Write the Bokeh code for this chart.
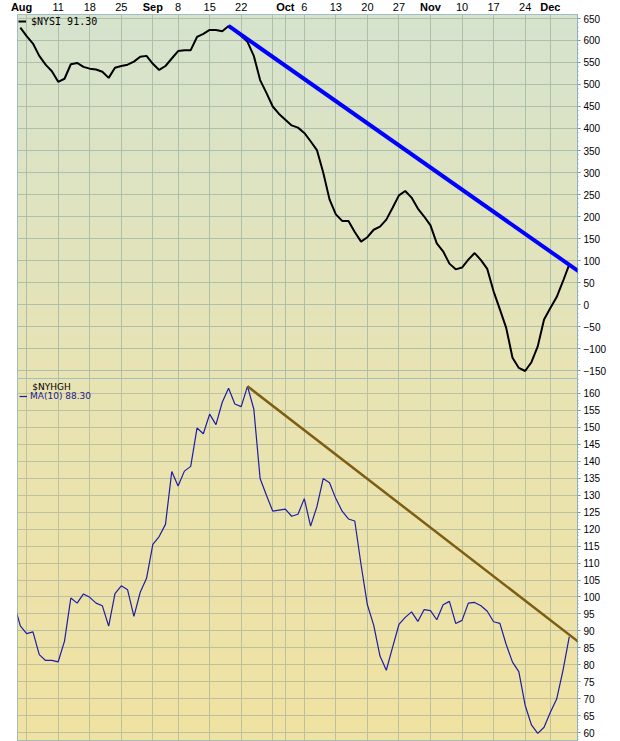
import numpy as np
from bokeh.plotting import figure
from bokeh.models import Range1d, FixedTicker, Label, Legend, LegendItem, Arrow
from bokeh.core.properties import value
from bokeh.layouts import column
from bokeh.embed import file_html
from bokeh.resources import INLINE

# x = trading-day index, 0 = Aug 1
nysi_days = list(range(0, 88))
nysi = [629, 610, 593, 565, 545, 530, 506, 513, 546, 549,
        540, 536, 534, 529, 515, 538, 542, 545, 552, 563,
        565, 547, 533, 542, 559, 576, 578, 578, 608, 615,
        624, 624, 621, 633, 622, 610, 597, 565, 510, 481,
        450, 433, 420, 407, 402, 390, 371, 351, 300, 239,
        205, 190, 190, 165, 143, 153, 170, 177, 193, 220,
        248, 258, 243, 218, 200, 180, 139, 121, 93, 80,
        84, 102, 117, 101, 81, 30, -11, -53, -121, -144,
        -151, -131, -95, -34, -8, 17, 53, 91.3]

hgh_days = list(range(-1, 88))
nyhgh_ma = [98, 91.5, 89.2, 89.7, 83, 81.3, 81.3, 80.9, 87, 99.7,
            98.2, 100.9, 99.9, 98.2, 97.4, 91.4, 101, 103.3, 102.1, 94.3,
            101.4, 105.5, 115.5, 117.8, 121.4, 137, 132.7, 137.1, 138.5, 149.8,
            148.1, 153.9, 150.8, 157.4, 161.5, 156.9, 156.1, 162.1, 155.4, 134.9,
            130, 125.3, 125.6, 125.9, 123.8, 124.4, 129, 120.9, 126.6, 134.9,
            133.7, 129, 125.3, 123, 122.4, 109.5, 97.7, 91.7, 82.6, 78.4,
            85.2, 91.9, 94, 95.6, 92.8, 96.3, 96, 93.3, 97.7, 98.7,
            92.2, 93.1, 98.2, 98.4, 97.4, 95.8, 92.7, 92.2, 86, 80.8,
            78, 68.1, 62.3, 59.8, 61.6, 66, 69.9, 78.4, 88.3]

nysi_trend_x = [33, 92]
nysi_trend_y = [633, 40]
hgh_trend_x = [36, 89]
hgh_trend_y = [162.1, 86]

week_ticks = [1, 6, 11, 16, 21, 25, 30, 35, 40, 42, 45, 50, 55, 60, 65, 70, 75, 80, 84]
day_tick_pos = [6, 11, 16, 25, 30, 35, 45, 50, 55, 60, 70, 75, 80]
day_tick_labels = ["11", "18", "25", "8", "15", "22", "6", "13", "20", "27", "10", "17", "24"]
month_pos = [0.2, 21, 42, 65, 84]
month_names = ["Aug", "Sep", "Oct", "Nov", "Dec"]

nysi_ticks = list(range(-150, 651, 50))
hgh_ticks = list(range(60, 161, 5))

X0, X1 = -0.45, 88.3
Y1 = (-168, 659)
Y2 = (57.7, 164.4)
FW, FH1, FH2 = 560, 364, 362
LEFT = 17
STRIP_H = 14
BORDER = "#8fb0c0"
FONT = "Liberation Sans"


def gradient(c_top, c_bot, n=256):
    t = np.linspace(0, 1, n)[:, None]
    top = np.array(c_top, dtype=float)
    bot = np.array(c_bot, dtype=float)
    rgb = bot + (top - bot) * t
    img = np.empty((n, 1), dtype=np.uint32)
    v = img.view(dtype=np.uint8).reshape((n, 1, 4))
    v[:, 0, 0] = rgb[:, 0]
    v[:, 0, 1] = rgb[:, 1]
    v[:, 0, 2] = rgb[:, 2]
    v[:, 0, 3] = 255
    return img


def style_right_axis(p, ticks, minor):
    ax = p.yaxis[0]
    ax.ticker = FixedTicker(ticks=ticks, minor_ticks=minor)
    ax.axis_line_color = BORDER
    ax.major_tick_out = 3
    ax.major_tick_in = 0
    ax.minor_tick_out = 1
    ax.minor_tick_in = 0
    ax.major_tick_line_color = "#6f8f9e"
    ax.minor_tick_line_color = BORDER
    ax.major_label_standoff = 3
    ax.major_label_text_font = FONT
    ax.major_label_text_font_size = "10px"
    ax.major_label_text_color = "black"


def base_fig(yr, fh):
    p = figure(frame_width=FW, frame_height=fh,
               x_range=Range1d(X0, X1), y_range=Range1d(*yr),
               x_axis_location=None, y_axis_location="right",
               output_backend="svg", toolbar_location=None,
               min_border_left=LEFT, min_border_right=2,
               min_border_top=0, min_border_bottom=0,
               border_fill_color="white", outline_line_color=BORDER)
    p.xgrid.ticker = FixedTicker(ticks=week_ticks)
    return p


# ---------------- date strip on top ----------------
ppx = FW / (X1 - X0)
sx0 = X0 - LEFT / ppx
strip = figure(frame_width=620, frame_height=STRIP_H,
               x_range=Range1d(sx0, sx0 + 620 / ppx), y_range=Range1d(0, STRIP_H),
               x_axis_location=None, y_axis_location=None,
               output_backend="svg", toolbar_location=None,
               min_border_left=0, min_border_right=0,
               min_border_top=0, min_border_bottom=0,
               border_fill_color="white", background_fill_color="white",
               outline_line_color=None, frame_align=False)
strip.grid.visible = False
mid_y = STRIP_H - 6.6
strip.text(x=day_tick_pos, y=[mid_y] * len(day_tick_pos), text=day_tick_labels,
           text_font=value(FONT), text_font_size="11px", text_color="black",
           text_align="center", text_baseline="middle")
strip.text(x=month_pos, y=[mid_y] * len(month_pos), text=month_names,
           text_font=value(FONT), text_font_size="11px", text_font_style="bold",
           text_color="black", text_align="center", text_baseline="middle")

# ---------------- top panel ----------------
p1 = base_fig(Y1, FH1)
p1.image_rgba(image=[gradient((214, 227, 206), (232, 228, 180))],
              x=X0, y=Y1[0], dw=X1 - X0, dh=Y1[1] - Y1[0], level="image")
p1.ygrid.ticker = FixedTicker(ticks=nysi_ticks)
for g in (p1.xgrid[0], p1.ygrid[0]):
    g.grid_line_color = "#a9bba6"
    g.grid_line_alpha = 0.9

style_right_axis(p1, nysi_ticks, list(range(-160, 660, 10)))

r1 = p1.line(nysi_days, nysi, line_color="black", line_width=2)
p1.add_layout(Arrow(end=None, x_start=nysi_trend_x[0], y_start=nysi_trend_y[0],
                    x_end=nysi_trend_x[1], y_end=nysi_trend_y[1],
                    line_color="#0000ff", line_width=4))

leg1 = Legend(items=[LegendItem(label="$NYSI 91.30", renderers=[r1])],
              location="top_left", margin=1, padding=0,
              glyph_width=8, glyph_height=12, label_height=12, label_standoff=5,
              label_text_font="DejaVu Sans Mono", label_text_font_size="10px",
              label_text_color="black",
              border_line_alpha=0, background_fill_alpha=0)
p1.add_layout(leg1)

# ---------------- bottom panel ----------------
p2 = base_fig(Y2, FH2)
p2.min_border_bottom = 1
p2.image_rgba(image=[gradient((232, 228, 180), (240, 226, 162))],
              x=X0, y=Y2[0], dw=X1 - X0, dh=Y2[1] - Y2[0], level="image")
p2.ygrid.ticker = FixedTicker(ticks=hgh_ticks)
for g in (p2.xgrid[0], p2.ygrid[0]):
    g.grid_line_color = "#b8bc9c"
    g.grid_line_alpha = 0.9

style_right_axis(p2, hgh_ticks, list(range(58, 165, 1)))

r2 = p2.line(hgh_days, nyhgh_ma, line_color="#1c1ca8", line_width=1.2)
p2.add_layout(Arrow(end=None, x_start=hgh_trend_x[0], y_start=hgh_trend_y[0],
                    x_end=hgh_trend_x[1], y_end=hgh_trend_y[1],
                    line_color="#7d5e12", line_width=2.5))

ppu2 = FH2 / (Y2[1] - Y2[0])
p2.add_layout(Label(x=1.9, y=Y2[1] - 3 / ppu2, text="$NYHGH",
                    text_font="DejaVu Sans", text_font_size="9px",
                    text_color="black", text_align="left", text_baseline="top"))

leg2 = Legend(items=[LegendItem(label="MA(10) 88.30", renderers=[r2])],
              location=(2, FH2 - 12 - 12), margin=0, padding=0,
              glyph_width=8, glyph_height=12, label_height=12, label_standoff=3,
              label_text_font="DejaVu Sans", label_text_font_size="9px",
              label_text_color="#1c1c8c",
              border_line_alpha=0, background_fill_alpha=0)
p2.add_layout(leg2)

layout = column(strip, p1, p2)
open("out.html", "w").write(file_html(layout, INLINE))
